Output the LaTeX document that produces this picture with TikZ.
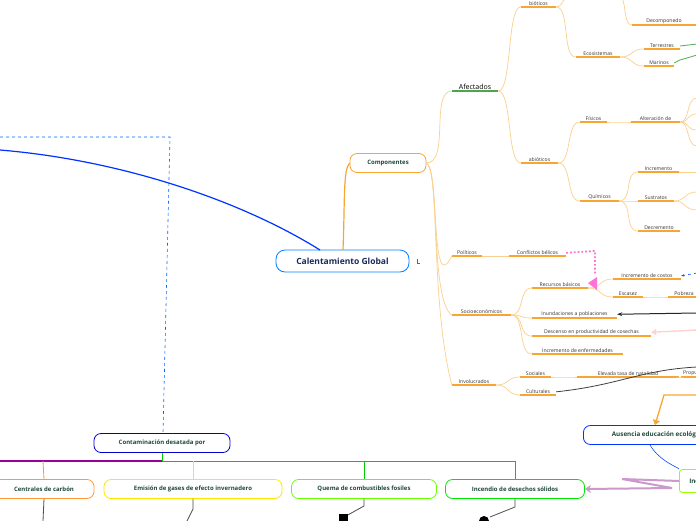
\documentclass[tikz,border=0pt]{standalone}
\usepackage{fontspec}
\setmainfont{Open Sans}
\usetikzlibrary{arrows.meta}
\definecolor{org}{HTML}{F8A532}
\definecolor{lorg}{HTML}{FBD08F}
\definecolor{dgreen}{HTML}{1F4A38}
\definecolor{navy}{HTML}{1A2A5A}
\tikzset{
  lft/.style={inner sep=1pt, font=\fontsize{5.1}{5.5}\selectfont, text=black!80},
  ul/.style={draw=org, line width=1.2pt},
  br/.style={draw=lorg, line width=0.7pt},
  bx/.style={draw, rounded corners=7pt, line width=0.8pt, minimum height=19pt, font=\bfseries\fontsize{6}{6.5}\selectfont, text=dgreen, fill=white},
  dk/.style={draw=black!70, line width=0.8pt}
}
\newcommand{\lf}[5]{\node[lft, anchor=south, minimum width={(#3-#2)*1pt}] (#1) at ({(#2+#3)/2},#4) {#5};
  \draw[ul] (#1.south west) -- (#1.south east);}
\newcommand{\cn}[2]{\draw[br] (#1.south east) .. controls +(14,0) and +(-14,0) .. (#2.south west);}
\begin{document}
\begin{tikzpicture}[x=1pt,y=-1pt]
\useasboundingbox (0,0) rectangle (696,520);
\fill[white] (0,0) rectangle (696,520);
% central
\node[draw=blue!50!cyan, rounded corners=9pt, line width=0.8pt, minimum width=133pt, minimum height=22pt, font=\bfseries\fontsize{8.5}{9}\selectfont, text=navy, fill=white] (cg) at (342.5,261) {Calentamiento Global};
\draw[black!60, line width=0.6pt] (417,259) -- (417,263) -- (420,263);
\node[bx, draw=org, minimum width=76pt] (comp) at (388,163) {Componentes};
\draw[org, line width=1.2pt] (343,250) .. controls (345,200) and (343,170) .. (comp.west);
% blue curve and dashed
\coordinate (bl) at (0,150);
\draw[blue!80!cyan, line width=1.2pt] (320,250) .. controls (240,200) and (120,160) .. (bl);
\node[bx, draw=blue!80!black, minimum width=136pt] (cont) at (162,443) {Contaminación desatada por};
\coordinate (dl) at (0,137);
\draw[blue!60!cyan, dashed, line width=0.6pt] (dl) -- (170,137) -- (163,433) -- (cont.north);
% leaves
\node[inner sep=1pt, font=\fontsize{7}{7.5}\selectfont, anchor=south, minimum width=46pt] (afe) at (475,91) {Afectados};
\draw[draw=green!50!black!70, line width=1.2pt] (afe.south west) -- (afe.south east);
\draw[br] (comp.east) .. controls (450,163) and (430,91) .. (afe.south west);
\lf{bio}{521}{556}{7}{bióticos}
\lf{eco}{576}{620}{57}{Ecosistemas}
\lf{ter}{644}{680}{49}{Terrestres}
\lf{mar}{644}{674}{66}{Marinos}
\lf{dec}{632}{696}{25}{Decomponedo}
\lf{abi}{521}{558}{163}{abióticos}
\lf{fis}{580}{607}{122}{Físicos}
\lf{alt}{631}{680}{122}{Alteración de}
\lf{qui}{580}{619}{201}{Químicos}
\lf{inc}{638}{679}{172}{Incremento}
\lf{sus}{638}{674}{201}{Sustratos}
\lf{decr}{638}{680}{231}{Decremento}
\lf{pol}{452}{482}{256}{Políticos}
\lf{con}{509}{566}{256}{Conflictos bélicos}
\lf{soc}{452}{511}{315}{Socioeconómicos}
\lf{rec}{532}{588}{288}{Recursos básicos}
\lf{ico}{613}{681}{279}{Incremento de costos}
\lf{esc}{613}{643}{297}{Escasez}
\lf{pob}{668}{700}{297}{Pobreza}
\lf{inu}{532}{617}{318}{Inundaciones a poblaciones}
\lf{des}{532}{651}{336}{Descenso en productividad de cosechas}
\lf{ien}{532}{623}{354}{Incremento de enfermedades}
\lf{inv}{452}{496}{385}{Involucrados}
\lf{soci}{520}{551}{377}{Sociales}
\lf{ele}{577}{679}{377}{Elevada tasa de natalidad}
\lf{pro}{681}{712}{377}{Propuestas}
\lf{cul}{520}{556}{395}{Culturales}
% branches
\draw[br] (bio.south east) .. controls (562,7) and (562,0) .. (566,-2);
\draw[br] (dec.south west) .. controls (624,25) and (626,5) .. (622,-2);
\cn{afe}{bio}\cn{afe}{abi}\cn{bio}{eco}\cn{eco}{ter}\cn{eco}{mar}
\cn{abi}{fis}\cn{abi}{qui}\cn{fis}{alt}\cn{qui}{inc}\cn{qui}{sus}\cn{qui}{decr}
\foreach \yy in {98,114,130,146}{\draw[br] (alt.south east) .. controls (690,122) and (686,\yy) .. (697,\yy);}
\draw[br] (inc.south east) -- (697,172);
\foreach \yy in {192,210}{\draw[br] (sus.south east) .. controls (686,201) and (684,\yy) .. (697,\yy);}
\foreach \t in {pol,soc,inv}{\draw[br] (comp.east) .. controls (440,170) and (430,300) .. (\t.south west);}
\cn{pol}{con}\cn{soc}{rec}\cn{soc}{inu}\cn{soc}{des}\cn{soc}{ien}
\cn{rec}{ico}\cn{rec}{esc}\cn{esc}{pob}\cn{inv}{soci}\cn{inv}{cul}\cn{soci}{ele}\cn{ele}{pro}
\draw[green!55!black!70, line width=0.8pt] (ter.east) -- (697,44);
\draw[green!55!black!70, line width=0.8pt] (mar.east) -- (680,60) -- (697,55);
% cross links
\draw[pink!60!magenta, dotted, line width=1.8pt] (con.east) -- (595,251) -- (595,274);
\fill[pink!60!magenta] (588,283) -- (597,277) -- (597,290) -- cycle;
\coordinate (ico2) at (697,273);
\draw[blue!70!cyan, dashed, line width=0.6pt, -{Stealth[length=3pt]}] (ico2) -- (ico.east);
\coordinate (inu2) at (697,313);
\draw[black!85, line width=1pt, -{Stealth[length=5pt]}] (inu2) -- (inu.east);
\coordinate (des2) at (697,330);
\draw[pink!70, line width=1.4pt, -{Triangle[length=5pt,width=6pt]}] (des2) -- (des.east);
\coordinate (cu2) at (697,367);
\draw[black!75, line width=0.8pt] (cul.east) .. controls (620,385) and (640,370) .. (cu2);
% Ausencia
\node[bx, draw=blue!80!cyan, minimum width=150pt, anchor=west] (aus) at (583,435) {\fontsize{6.3}{7}\selectfont Ausencia educación ecológica};
\coordinate (or1) at (697,395);
\draw[org, line width=1.3pt, -{Triangle[length=5pt,width=7pt]}] (or1) -- (664,395) -- (655,425);
\node[bx, draw=green!40!yellow, rounded corners=3pt, minimum width=50pt, minimum height=23pt, anchor=west] (inci) at (679,481) {\fontsize{6.3}{7}\selectfont Incendios};
\draw[blue!70!cyan, line width=0.6pt] (650,445) .. controls (660,462) and (680,468) .. (inci.north west);
% bottom row
\node[bx, draw=orange!80, minimum width=100pt] (cen) at (44,489) {Centrales de carbón};
\node[bx, draw=yellow!90!orange, minimum width=178pt] (emi) at (193,489) {Emisión de gases de efecto invernadero};
\node[bx, draw=green!60!yellow, minimum width=145pt] (que) at (364,489) {Quema de combustibles fosiles};
\node[bx, draw=green!90!black, minimum width=139pt] (ince) at (515,489) {Incendio de desechos sólidos};
\draw[violet!40, line width=2pt, -{Stealth[length=6pt,width=8pt]}] (inci.west) -- (622,479) -- (672,488) -- (ince.east);
\draw[green!80!black, line width=0.8pt] (cont.south) -- (162,461) -- (515,461) -- (ince.north);
\draw[green!80!black, line width=0.8pt] (364,461) -- (que.north);
\draw[yellow!90!orange, line width=0.8pt] (193,461) -- (emi.north);
\draw[violet!80!magenta, line width=1.2pt] (0,461) -- (162,461);
\draw[orange!80, line width=0.8pt] (43,461) -- (cen.north);
\coordinate (c1) at (43,521); \coordinate (c2) at (187,521);
\draw[dk] (cen.south) -- (c1);
\draw[dk] (emi.south) -- (193,509) -- (c2);
\draw[dk] (que.south) -- (364,506) -- (346,516);
\fill[black] (339,514) rectangle (348,521);
\draw[dk] (ince.south) -- (515,507) -- (490,517);
\fill[black] (484,521) circle (5pt);
\end{tikzpicture}
\end{document}
